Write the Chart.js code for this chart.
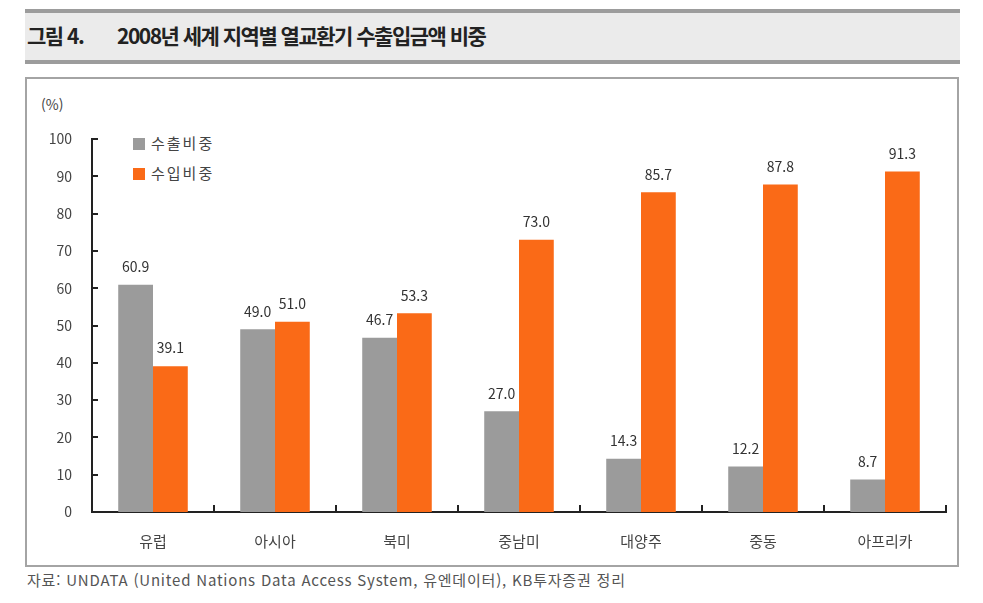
<!DOCTYPE html>
<html lang="ko">
<head>
<meta charset="utf-8">
<script src="https://cdn.jsdelivr.net/npm/chart.js@4.4.1/dist/chart.umd.min.js"></script>
<style>
  html, body { margin: 0; padding: 0; background: #fff; }
  body { width: 983px; height: 603px; position: relative; overflow: hidden;
         font-family: "Noto Sans CJK KR", "DejaVu Sans", sans-serif; }
  #title { position: absolute; left: 25px; top: 9px; width: 935px; height: 47px;
           background: #ebebeb; border-top: 4px solid #9c9c9c; border-bottom: 4px solid #9c9c9c; }
  #title span { position: absolute; top: 9px; font-size: 21px; font-weight: bold; color: #222;
                letter-spacing: -1.5px; line-height: 26px; }
  #box { position: absolute; left: 25px; top: 77px; width: 930px; height: 486px;
         border: 2px solid #a4a4a4; }
  #unit { position: absolute; left: 41px; top: 94px; font-size: 14px; color: #444; }
  .leg { position: absolute; left: 133px; font-size: 15px; color: #444; letter-spacing: 2px; line-height: 18px; }
  .leg i { display: inline-block; width: 12px; height: 12px; margin-right: 6px; vertical-align: -1px; }
  #note { position: absolute; left: 27px; top: 569px; font-size: 15px; color: #555; letter-spacing: 0.8px; }
  canvas { position: absolute; left: 0; top: 0; }
</style>
</head>
<body>
<div id="title"><span style="left:2px">그림 4.</span><span style="left:92px">2008년 세계 지역별 열교환기 수출입금액 비중</span></div>
<div id="box"></div>
<div id="unit">(%)</div>
<div class="leg" style="top:134px"><i style="background:#9b9b9b"></i>수출비중</div>
<div class="leg" style="top:164px"><i style="background:#fa6a17"></i>수입비중</div>
<div id="note">자료: UNDATA (United Nations Data Access System, 유엔데이터), KB투자증권 정리</div>
<canvas id="c" width="983" height="603"></canvas>
<script>
const regions = ["유럽", "아시아", "북미", "중남미", "대양주", "중동", "아프리카"];
const exportShare = [60.9, 49.0, 46.7, 27.0, 14.3, 12.2, 8.7];
const importShare = [39.1, 51.0, 53.3, 73.0, 85.7, 87.8, 91.3];
const seriesNames = ["수출비중", "수입비중"];
const yTicks = [0, 10, 20, 30, 40, 50, 60, 70, 80, 90, 100];

const COLOURS = { exp: "#9b9b9b", imp: "#fa6a17", axis: "#222", text: "#444" };
const FONT = '"Noto Sans CJK KR", "DejaVu Sans", sans-serif';

// inward tick marks + value labels above each bar
const extrasPlugin = {
  id: "extras",
  afterDraw(chart) {
    const { ctx, scales: { x, y } } = chart;
    ctx.save();
    ctx.strokeStyle = COLOURS.axis;
    ctx.lineWidth = 2;
    const y0 = y.getPixelForValue(0);
    yTicks.forEach(v => {
      const py = Math.round(y.getPixelForValue(v));
      ctx.beginPath(); ctx.moveTo(x.left, py); ctx.lineTo(x.left + 6, py); ctx.stroke();
    });
    for (let i = 1; i <= regions.length; i++) {
      const px = Math.round(x.left + (x.right - x.left) * i / regions.length);
      ctx.beginPath(); ctx.moveTo(px, y0); ctx.lineTo(px, y0 - 7); ctx.stroke();
    }
    ctx.font = "14px " + FONT;
    ctx.fillStyle = "#333";
    ctx.textAlign = "center";
    ctx.textBaseline = "bottom";
    chart.data.datasets.forEach((ds, di) => {
      chart.getDatasetMeta(di).data.forEach((bar, i) => {
        ctx.fillText(ds.data[i].toFixed(1), bar.x, bar.y - 11);
      });
    });
    ctx.restore();
  },
};

new Chart(document.getElementById("c"), {
  type: "bar",
  data: {
    labels: regions,
    datasets: [
      { label: seriesNames[0], data: exportShare, backgroundColor: COLOURS.exp },
      { label: seriesNames[1], data: importShare, backgroundColor: COLOURS.imp },
    ],
  },
  options: {
    responsive: false,
    animation: false,
    categoryPercentage: 0.57,
    barPercentage: 1.0,
    layout: { padding: { left: 0, top: 139, right: 37, bottom: 0 } },
    plugins: { legend: { display: false }, tooltip: { enabled: false } },
    scales: {
      x: {
        grid: { display: false, drawTicks: false },
        border: { color: COLOURS.axis, width: 2 },
        ticks: { color: COLOURS.text, font: { family: FONT, size: 15 }, padding: 20 },
        afterFit(s) { s.height = 91; },
      },
      y: {
        min: 0, max: 100,
        afterBuildTicks(s) { s.ticks = yTicks.map(v => ({ value: v })); },
        grid: { display: false, drawTicks: false },
        border: { color: COLOURS.axis, width: 2 },
        ticks: { color: COLOURS.text, font: { family: FONT, size: 14 }, padding: 20 },
        afterFit(s) { s.width = 92; },
      },
    },
  },
  plugins: [extrasPlugin],
});
</script>
</body>
</html>
